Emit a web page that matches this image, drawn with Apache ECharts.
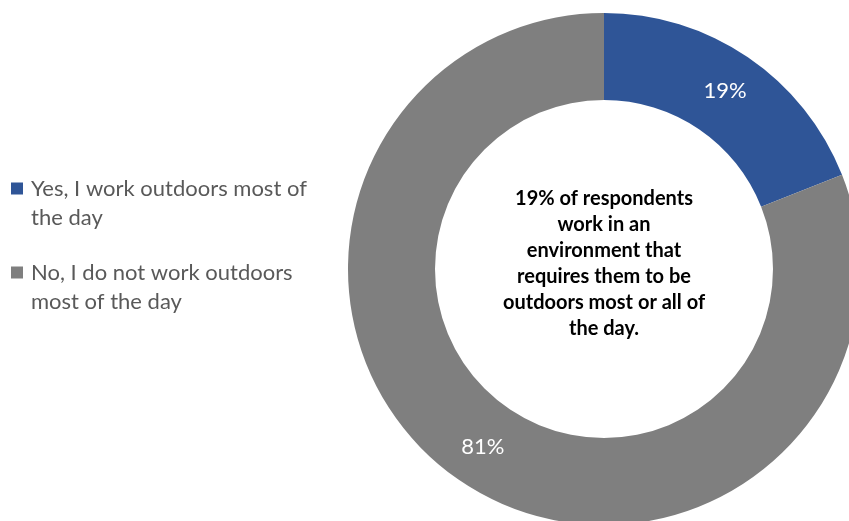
<!DOCTYPE html>
<html>
<head>
<meta charset="utf-8">
<script src="https://cdn.jsdelivr.net/npm/echarts@6/dist/echarts.min.js"></script>
<style>
  html, body { margin: 0; padding: 0; background: #fff; }
  #chart { width: 849px; height: 521px; }
</style>
</head>
<body>
<div id="chart"></div>
<script>
// Survey answers: share of respondents working outdoors
const categories = [
  'Yes, I work outdoors most of the day',
  'No, I do not work outdoors most of the day'
];
const legendLines = [
  'Yes, I work outdoors most of\nthe day',
  'No, I do not work outdoors\nmost of the day'
];
const shares = [19, 81];
const sliceColors = ['#2F5597', '#7F7F7F'];
const centerNote = '19% of respondents\nwork in an\nenvironment that\nrequires them to be\noutdoors most or all of\nthe day.';

const chart = echarts.init(document.getElementById('chart'), null, { renderer: 'canvas' });

const pieData = categories.map((name, i) => ({
  name,
  value: shares[i],
  itemStyle: { color: sliceColors[i] }
}));

chart.setOption({
  backgroundColor: '#ffffff',
  animation: false,
  title: {
    text: centerNote,
    left: 604,
    top: 186,
    textAlign: 'center',
    padding: 0,
    textStyle: {
      fontFamily: 'Lato',
      fontWeight: 'bold',
      fontSize: 20,
      lineHeight: 26,
      color: '#000000'
    }
  },
  legend: {
    orient: 'vertical',
    left: 11,
    top: 145,
    padding: 0,
    itemWidth: 12,
    itemHeight: 12,
    itemGap: -3,
    icon: 'rect',
    selectedMode: false,
    data: categories,
    // leading blank line keeps the marker level with the first text line
    formatter: name => '\n' + legendLines[categories.indexOf(name)],
    textStyle: {
      fontFamily: 'Lato',
      fontSize: 22,
      lineHeight: 29,
      color: '#595959',
      padding: [0, 0, 0, 3]
    }
  },
  series: [{
    type: 'pie',
    center: [604, 269],
    radius: [169, 256],
    startAngle: 90,
    clockwise: true,
    silent: true,
    data: pieData,
    itemStyle: { borderWidth: 0 },
    label: {
      show: true,
      position: 'inside',
      formatter: p => p.value + '%',
      fontFamily: 'Lato',
      fontSize: 22,
      color: '#ffffff'
    },
    labelLine: { show: false }
  }]
});
</script>
</body>
</html>
